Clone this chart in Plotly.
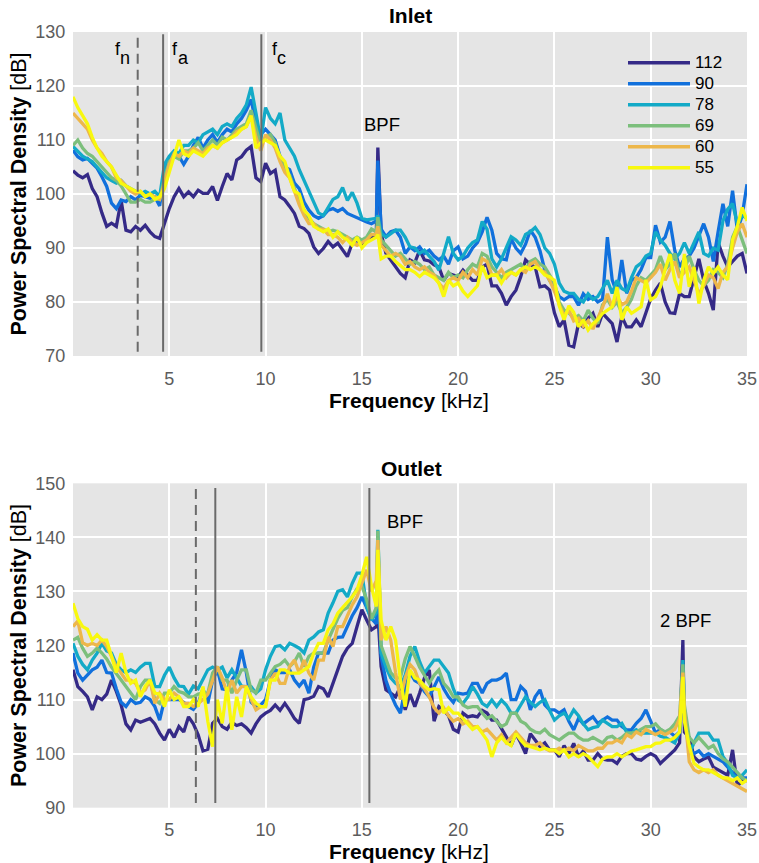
import plotly.graph_objects as go

W, H = 759, 863

speeds = ["112", "90", "78", "69", "60", "55"]
colors = ["#352a87", "#1170dc", "#13aac7", "#7cbf7c", "#edb74b", "#f8f80e"]

freq_step = 0.25          # kHz between stored samples (0 ... 35 kHz)
bpf = 15.83               # blade passing frequency [kHz]
bpf2 = 31.67              # 2 x BPF [kHz]

# ---------------- Inlet (rows: k, k+.25, k+.5, k+.75 kHz) ----------------
inlet_112 = [
    [104.3, 103.5, 103.0, 103.6], [101.0, 99.5, 96.5, 94.0], [94.6, 94.0, 98.8, 93.3],
    [93.0, 94.0, 93.3, 94.2], [93.0, 92.1, 91.8, 94.5], [97.3, 99.5, 101.0, 99.5],
    [100.4, 99.5, 100.7, 100.1], [100.1, 101.4, 98.8, 101.4], [103.8, 102.6, 106.3, 106.9],
    [108.1, 108.8, 103.0, 102.3], [105.7, 103.8, 104.4, 99.5], [98.9, 97.7, 96.4, 94.0],
    [93.6, 92.7, 90.2, 89.0], [89.9, 91.2, 90.2, 90.9], [89.6, 88.4, 90.9, 91.5],
    [90.6, 91.7, 92.0, 92.4], [92.7, 89.0, 87.8, 86.5], [85.3, 84.5, 87.8, 87.3],
    [89.6, 87.8, 87.6, 86.9], [86.5, 84.0, 85.3, 85.0], [84.7, 85.9, 85.0, 84.0],
    [84.0, 86.5, 87.0, 83.0], [83.0, 81.6, 79.4, 81.0], [82.2, 84.7, 87.8, 86.9],
    [86.5, 82.8, 83.0, 82.2], [78.0, 75.4, 76.7, 72.0], [71.7, 76.0, 75.4, 77.0],
    [77.9, 75.4, 77.9, 77.0], [76.0, 72.6, 77.3, 75.4], [75.4, 76.7, 75.4, 78.0],
    [80.6, 82.2, 83.5, 80.0], [78.0, 77.9, 81.6, 81.0], [81.0, 84.5, 88.0, 84.0],
    [81.6, 78.5, 91.0, 88.5], [86.5, 87.5, 88.5, 89.0], [85.3],
]
inlet_90 = [
    [108.1, 106.9, 106.3, 106.6], [105.7, 104.8, 103.2, 101.4], [98.3, 97.3, 98.9, 98.6],
    [99.5, 98.9, 99.8, 99.5], [99.2, 99.5, 97.8, 104.0], [106.5, 107.5, 107.0, 105.5],
    [107.0, 109.0, 110.5, 108.5], [110.0, 111.0, 109.5, 111.0], [112.0, 111.5, 113.0, 114.0],
    [115.5, 117.5, 113.0, 111.0], [112.0, 111.0, 110.0, 107.0], [105.0, 104.5, 102.0, 101.0],
    [98.5, 97.0, 96.0, 95.5], [96.0, 97.0, 97.3, 96.8], [97.3, 96.4, 96.0, 95.5],
    [95.2, 94.8, 94.5, 95.0], [93.5, 92.1, 93.0, 93.3], [92.0, 89.0, 90.2, 89.5],
    [90.2, 89.0, 89.6, 88.5], [87.8, 88.5, 87.0, 89.5], [90.2, 88.0, 88.5, 90.0],
    [91.0, 93.0, 95.7, 93.3], [89.0, 88.0, 87.8, 91.7], [90.0, 89.0, 90.7, 93.3],
    [92.0, 89.5, 85.9, 84.0], [82.8, 81.0, 80.4, 81.0], [81.0, 79.4, 81.5, 80.5],
    [81.0, 80.0, 80.5, 92.0], [84.1, 81.6, 87.8, 81.6], [84.0, 84.5, 86.0, 88.2],
    [88.2, 94.2, 91.1, 92.0], [94.9, 89.5, 86.5, 88.0], [88.5, 90.0, 92.2, 94.5],
    [92.0, 87.5, 93.0, 98.2], [94.0, 100.6, 93.3, 96.0], [101.8],
]
inlet_78 = [
    [108.8, 108.0, 107.0, 106.5], [106.0, 105.0, 104.0, 103.0], [102.5, 102.0, 102.5, 101.5],
    [101.0, 100.5, 100.0, 100.5], [100.0, 100.5, 99.5, 105.5], [107.0, 108.0, 107.5, 109.0],
    [109.0, 110.0, 109.5, 111.0], [111.5, 112.0, 111.0, 112.5], [113.0, 112.5, 114.0, 115.0],
    [116.5, 119.8, 115.0, 110.0], [116.0, 114.0, 113.0, 115.0], [110.0, 108.5, 107.0, 104.5],
    [102.5, 100.5, 98.5, 96.5], [96.0, 97.5, 99.0, 99.5], [101.2, 98.8, 100.3, 98.3],
    [95.5, 95.2, 95.3, 95.5], [92.7, 92.0, 92.7, 93.3], [93.3, 92.0, 90.2, 90.0],
    [89.0, 89.6, 88.5, 87.5], [85.9, 89.0, 92.1, 89.0], [87.8, 88.5, 90.0, 91.0],
    [91.5, 94.9, 93.5, 88.0], [86.5, 88.0, 90.0, 92.1], [91.5, 90.5, 92.5, 93.0],
    [93.8, 92.5, 90.0, 89.0], [87.0, 83.5, 82.0, 81.6], [81.6, 80.5, 80.0, 81.5],
    [80.5, 81.0, 82.5, 84.0], [81.6, 84.0, 82.5, 82.0], [84.5, 86.5, 87.2, 88.5],
    [89.0, 93.0, 91.5, 90.5], [89.0, 88.0, 89.0, 91.0], [89.0, 91.0, 93.0, 89.0],
    [88.5, 90.0, 89.6, 95.0], [97.2, 98.2, 94.5, 96.0], [95.5],
]
inlet_69 = [
    [109.0, 110.0, 108.5, 107.5], [107.0, 106.0, 105.0, 104.0], [103.0, 102.5, 101.5, 100.0],
    [98.5, 98.5, 99.0, 98.5], [98.5, 99.0, 99.0, 103.0], [106.0, 107.0, 106.5, 108.0],
    [108.0, 108.5, 109.5, 108.0], [109.0, 110.0, 109.0, 110.5], [110.0, 111.0, 112.0, 112.5],
    [113.0, 115.5, 112.0, 109.0], [110.5, 111.0, 109.5, 106.5], [104.5, 103.5, 101.0, 99.0],
    [97.0, 95.5, 94.5, 94.0], [93.5, 93.0, 93.3, 93.0], [92.5, 92.0, 91.5, 92.0],
    [91.5, 92.0, 93.5, 93.0], [91.5, 90.5, 89.5, 88.5], [89.0, 88.0, 87.0, 87.5],
    [87.0, 86.0, 86.5, 85.0], [84.5, 84.0, 85.5, 84.5], [85.0, 84.5, 86.0, 87.0],
    [86.5, 89.0, 88.5, 86.5], [85.5, 84.5, 85.5, 86.0], [86.5, 87.0, 86.0, 87.5],
    [88.0, 87.0, 86.5, 85.0], [83.5, 80.0, 78.5, 78.0], [77.0, 77.5, 76.5, 78.5],
    [77.0, 76.0, 79.5, 80.5], [79.0, 80.0, 78.0, 79.0], [80.5, 83.0, 84.5, 84.0],
    [85.0, 86.0, 88.5, 86.0], [87.0, 89.0, 85.0, 86.0], [88.5, 86.0, 84.0, 83.0],
    [84.0, 86.0, 85.5, 84.5], [87.0, 92.0, 94.0, 91.5], [89.0],
]
inlet_60 = [
    [115.0, 114.0, 113.0, 112.0], [110.0, 108.5, 107.5, 106.0], [105.0, 103.0, 102.5, 101.5],
    [100.5, 100.0, 100.5, 99.5], [100.0, 99.5, 99.0, 102.0], [105.5, 107.5, 107.0, 108.0],
    [107.5, 108.5, 108.0, 107.5], [108.5, 109.0, 108.5, 109.5], [110.0, 110.5, 111.5, 112.0],
    [112.5, 114.5, 110.5, 108.0], [111.0, 110.0, 108.5, 106.0], [104.0, 103.0, 100.5, 98.0],
    [96.0, 94.5, 94.5, 93.5], [93.5, 92.5, 92.5, 92.0], [91.0, 92.0, 91.0, 90.5],
    [91.0, 91.5, 92.5, 92.5], [90.5, 89.5, 88.5, 89.0], [88.5, 87.0, 87.5, 86.5],
    [86.0, 86.5, 85.5, 85.0], [83.5, 82.5, 84.0, 84.5], [84.0, 85.5, 84.5, 86.0],
    [85.0, 88.0, 87.5, 85.0], [85.0, 86.0, 84.5, 85.5], [85.0, 86.0, 85.5, 87.0],
    [87.5, 86.0, 85.5, 84.0], [82.0, 79.5, 77.5, 78.5], [76.5, 77.0, 75.5, 76.5],
    [75.0, 77.0, 79.0, 81.5], [79.0, 81.0, 79.5, 80.0], [82.0, 84.5, 84.0, 83.5],
    [84.5, 85.5, 87.0, 84.0], [86.0, 87.5, 84.5, 85.5], [86.5, 84.0, 81.5, 83.0],
    [85.0, 84.5, 82.5, 85.5], [86.5, 90.0, 93.0, 94.5], [92.0],
]
inlet_55 = [
    [118.0, 116.0, 114.5, 113.0], [110.5, 108.5, 107.0, 106.0], [105.0, 103.5, 102.0, 101.5],
    [101.0, 100.5, 100.5, 99.5], [100.0, 99.0, 99.5, 101.0], [104.0, 107.0, 110.0, 107.5],
    [107.0, 108.0, 107.5, 107.0], [108.0, 109.0, 108.5, 109.5], [110.0, 110.5, 111.0, 112.0],
    [112.5, 114.5, 108.5, 109.5], [110.0, 109.5, 109.0, 107.0], [106.0, 103.0, 100.5, 100.0],
    [97.0, 96.0, 94.0, 93.5], [93.0, 93.5, 92.0, 93.0], [92.0, 91.5, 90.5, 92.0],
    [90.0, 91.0, 91.5, 92.0], [88.0, 88.5, 88.5, 87.5], [86.7, 86.0, 86.0, 85.5],
    [84.7, 85.5, 85.0, 84.5], [83.5, 81.0, 84.0, 83.0], [83.5, 82.0, 81.0, 82.0],
    [83.0, 86.7, 84.5, 85.0], [85.0, 83.5, 85.0, 85.5], [85.0, 86.0, 86.5, 86.0],
    [86.5, 86.0, 85.0, 84.7], [84.0, 79.3, 76.7, 79.3], [78.1, 75.4, 76.7, 74.8],
    [76.0, 76.7, 77.9, 78.5], [79.1, 82.8, 76.7, 79.1], [77.9, 78.5, 79.1, 84.1],
    [80.4, 81.0, 82.8, 86.0], [88.9, 84.0, 81.6, 88.9], [82.8, 86.5, 79.7, 84.0],
    [86.5, 85.3, 86.5, 85.0], [84.1, 91.5, 94.0, 97.5], [95.0],
]
inlet_bpf_peak = [108.6, 106.2, 96.0, 95.7, 94.0, 92.5]

# ---------------- Outlet ----------------
outlet_112 = [
    [115.5, 112.4, 111.5, 110.5], [108.1, 110.5, 110.0, 111.0], [113.6, 111.5, 109.0, 105.5],
    [104.4, 106.2, 105.8, 106.2], [106.5, 105.5, 103.8, 102.5], [104.5, 103.0, 105.0, 104.0],
    [106.8, 105.5, 103.5, 100.5], [100.8, 105.6, 106.5, 105.0], [104.5, 105.8, 105.2, 105.5],
    [104.8, 103.8, 105.5, 106.8], [107.5, 108.0, 109.0, 108.0], [109.3, 108.0, 106.5, 105.6],
    [110.0, 110.2, 110.6, 112.4], [112.0, 110.5, 113.0, 115.5], [118.0, 119.5, 120.4, 123.5],
    [126.6, 124.7, 122.9, 123.5], [116.1, 111.8, 111.2, 110.5], [112.4, 108.1, 111.0, 108.7],
    [111.2, 114.0, 115.5, 106.0], [108.7, 108.1, 107.0, 104.5], [104.0, 107.5, 106.8, 107.0],
    [106.8, 108.0, 107.5, 106.2], [106.2, 104.5, 103.1, 101.5], [103.7, 102.0, 100.0, 103.7],
    [102.5, 101.3, 102.0, 100.7], [100.7, 99.4, 101.5, 100.0], [101.9, 99.4, 100.5, 98.8],
    [98.8, 100.0, 99.0, 98.8], [98.8, 98.2, 99.5, 100.0], [100.0, 99.0, 98.8, 99.5],
    [100.0, 99.5, 98.2, 99.0], [100.0, 100.7, 102.0, 104.0], [103.0, 99.4, 98.5, 99.0],
    [99.4, 97.5, 97.0, 96.5], [96.0, 100.7, 94.0, 95.0], [95.0],
]
outlet_90 = [
    [118.6, 114.9, 113.6, 114.5], [115.5, 116.0, 117.3, 115.0], [114.9, 112.0, 109.5, 108.7],
    [110.0, 109.3, 109.5, 110.5], [110.0, 108.7, 106.2, 110.0], [110.0, 110.0, 110.0, 109.5],
    [108.7, 108.2, 109.3, 112.0], [109.3, 113.6, 115.5, 112.0], [111.8, 113.6, 115.0, 119.2],
    [115.0, 109.5, 108.7, 109.0], [110.0, 113.6, 115.5, 115.0], [115.0, 115.5, 113.6, 112.5],
    [113.6, 111.2, 116.0, 118.6], [118.6, 118.6, 121.0, 121.5], [121.6, 123.5, 125.5, 127.0],
    [129.0, 127.0, 125.0, 124.0], [118.0, 113.5, 111.0, 109.0], [107.5, 112.0, 115.0, 113.5],
    [113.0, 111.5, 110.5, 112.5], [114.2, 112.0, 110.5, 109.5], [111.2, 111.0, 111.2, 113.0],
    [113.0, 111.2, 113.0, 113.6], [113.6, 114.0, 114.9, 110.0], [110.0, 112.4, 111.5, 108.1],
    [110.5, 111.8, 109.0, 108.1], [108.1, 107.5, 108.1, 106.0], [104.4, 106.5, 105.5, 106.2],
    [106.8, 105.6, 106.2, 106.8], [106.2, 106.2, 105.0, 104.4], [104.4, 105.6, 106.5, 108.1],
    [106.0, 103.8, 104.5, 103.8], [104.0, 103.2, 104.0, 108.0], [101.0, 100.0, 100.5, 99.5],
    [100.0, 99.5, 99.0, 98.5], [97.5, 96.5, 95.5, 95.5], [95.5],
]
outlet_78 = [
    [120.4, 118.0, 116.5, 115.5], [117.3, 118.6, 120.4, 119.0], [118.6, 116.5, 115.5, 115.0],
    [115.5, 115.0, 116.0, 116.7], [116.7, 112.4, 112.4, 114.5], [116.0, 114.0, 112.5, 112.4],
    [111.0, 112.5, 112.0, 113.6], [115.5, 116.0, 115.5, 116.0], [114.0, 115.5, 114.0, 112.5],
    [112.4, 112.4, 111.2, 112.0], [115.5, 118.0, 119.8, 120.0], [119.2, 120.4, 120.0, 119.5],
    [118.6, 121.0, 121.6, 122.5], [122.9, 126.0, 127.9, 130.0], [130.3, 129.0, 131.5, 133.4],
    [133.4, 127.2, 124.7, 126.0], [118.6, 116.0, 114.0, 113.0], [112.4, 114.5, 118.0, 119.8],
    [117.0, 114.9, 116.0, 117.3], [117.3, 116.0, 114.9, 112.0], [109.9, 109.3, 110.5, 112.4],
    [111.0, 109.3, 108.7, 109.9], [108.7, 109.9, 109.0, 107.5], [107.5, 109.0, 110.5, 109.5],
    [108.7, 109.5, 110.0, 108.0], [106.2, 107.0, 107.5, 106.5], [108.1, 107.0, 105.5, 104.4],
    [104.8, 105.0, 106.2, 105.6], [105.0, 105.0, 105.6, 104.0], [103.8, 104.4, 103.8, 103.8],
    [103.8, 103.8, 103.2, 103.0], [102.5, 102.0, 104.0, 108.0], [100.0, 102.0, 103.8, 103.8],
    [103.8, 102.5, 102.5, 99.5], [98.2, 96.0, 95.5, 96.0], [97.0],
]
outlet_69 = [
    [121.0, 121.5, 119.5, 118.0], [118.6, 119.5, 118.6, 117.5], [116.0, 114.9, 113.6, 112.4],
    [111.2, 110.0, 112.4, 113.6], [113.6, 110.0, 109.3, 111.2], [111.2, 112.4, 111.5, 111.2],
    [110.5, 110.5, 111.0, 111.2], [111.2, 114.9, 116.1, 113.6], [113.6, 111.2, 113.6, 115.5],
    [115.5, 111.8, 111.2, 113.6], [113.6, 114.9, 116.1, 116.5], [117.3, 116.1, 117.0, 118.6],
    [116.1, 118.0, 118.6, 118.6], [118.6, 121.0, 123.0, 125.0], [126.5, 127.0, 129.0, 130.5],
    [131.0, 128.5, 125.0, 127.0], [120.0, 117.5, 115.0, 114.0], [114.0, 117.5, 119.8, 118.0],
    [116.0, 114.5, 113.0, 114.5], [115.5, 113.0, 112.0, 110.5], [110.5, 109.0, 108.5, 108.7],
    [108.7, 107.5, 106.5, 107.0], [106.0, 105.0, 105.5, 107.5], [107.5, 106.0, 105.5, 104.5],
    [104.0, 103.8, 104.5, 103.5], [103.0, 102.5, 103.2, 103.8], [103.8, 103.0, 102.5, 102.5],
    [103.0, 102.5, 102.0, 103.0], [103.2, 102.5, 103.0, 103.8], [103.8, 104.0, 104.5, 105.0],
    [105.0, 105.5, 104.5, 104.0], [104.5, 105.5, 107.0, 109.0], [103.0, 102.0, 103.0, 102.0],
    [101.0, 101.5, 100.0, 99.0], [98.5, 97.5, 96.5, 95.5], [95.0],
]
outlet_60 = [
    [123.5, 124.5, 120.5, 120.0], [120.4, 120.0, 121.0, 119.8], [118.0, 116.0, 114.9, 113.6],
    [113.6, 113.0, 111.2, 111.8], [113.6, 109.3, 111.2, 110.0], [110.0, 111.2, 110.5, 109.3],
    [109.3, 108.7, 109.3, 110.0], [111.0, 113.6, 116.1, 114.0], [111.2, 113.6, 111.2, 112.4],
    [112.4, 110.0, 108.1, 108.7], [108.7, 113.6, 114.9, 113.0], [113.0, 116.1, 117.3, 114.9],
    [117.3, 114.9, 113.6, 117.3], [117.3, 121.6, 119.8, 123.5], [123.5, 125.5, 127.5, 129.0],
    [131.5, 134.0, 130.0, 132.0], [121.0, 123.5, 121.0, 115.0], [110.0, 114.0, 116.5, 115.5],
    [113.0, 112.0, 110.5, 108.5], [107.5, 108.5, 107.0, 106.0], [106.5, 105.5, 106.0, 105.0],
    [105.0, 104.0, 104.5, 103.5], [102.5, 103.5, 102.0, 103.0], [104.0, 103.0, 102.0, 101.5],
    [101.5, 102.0, 101.0, 100.5], [100.5, 101.0, 100.5, 101.0], [100.5, 101.5, 101.0, 100.5],
    [100.5, 101.0, 101.0, 102.0], [102.0, 102.5, 102.0, 103.5], [103.0, 104.0, 103.5, 104.5],
    [104.0, 103.5, 104.0, 103.5], [104.0, 104.5, 106.5, 108.0], [98.5, 97.0, 96.5, 97.0],
    [96.5, 97.0, 96.0, 95.5], [95.0, 94.5, 94.0, 93.5], [93.0],
]
outlet_55 = [
    [127.8, 125.0, 123.5, 123.0], [121.0, 122.0, 121.0, 121.0], [118.0, 115.0, 118.6, 115.0],
    [113.0, 113.6, 110.5, 112.5], [113.6, 111.2, 111.0, 108.7], [111.8, 110.0, 110.5, 108.7],
    [108.7, 110.0, 108.7, 112.4], [106.0, 101.3, 110.0, 105.6], [112.4, 104.4, 110.5, 106.8],
    [112.4, 110.5, 109.3, 108.7], [108.7, 113.6, 113.6, 115.5], [115.5, 114.9, 114.9, 114.9],
    [115.5, 116.1, 118.6, 120.4], [120.4, 122.9, 124.0, 126.0], [127.0, 128.0, 129.0, 130.3],
    [133.0, 136.4, 130.9, 127.2], [124.7, 121.0, 123.5, 121.0], [113.6, 108.7, 115.5, 114.0],
    [113.6, 112.5, 111.8, 112.0], [111.8, 107.5, 108.5, 107.5], [107.5, 106.5, 105.5, 104.5],
    [105.0, 103.8, 102.5, 99.4], [102.0, 103.0, 102.0, 101.5], [103.7, 102.5, 101.5, 101.3],
    [101.0, 100.7, 101.0, 100.7], [100.7, 100.0, 100.7, 99.4], [100.0, 99.4, 100.0, 99.5],
    [98.5, 97.6, 99.0, 99.4], [99.4, 100.0, 99.4, 100.0], [100.5, 100.7, 101.0, 101.3],
    [101.3, 101.9, 102.0, 102.5], [102.5, 103.0, 104.0, 106.0], [101.5, 98.2, 97.5, 97.0],
    [97.0, 96.5, 96.0, 95.5], [95.5, 95.0, 95.5, 94.5], [95.1],
]
outlet_bpf_peak = [126.0, 133.0, 141.4, 141.2, 139.5, 137.7]
outlet_2bpf_peak = [121.0, 112.0, 117.3, 116.5, 115.0, 114.2]

# characteristic frequencies [kHz] (vertical markers)
inlet_marks = {"n": 3.36, "a": 4.68, "c": 9.78}
outlet_marks = {"n": 6.38, "a": 7.39, "c": 15.39}

inlet_series = [inlet_112, inlet_90, inlet_78, inlet_69, inlet_60, inlet_55]
outlet_series = [outlet_112, outlet_90, outlet_78, outlet_69, outlet_60, outlet_55]


def build(rows, peaks):
    vals = [v for r in rows for v in r]
    pts = [(round(i * freq_step, 4), v) for i, v in enumerate(vals)] + peaks
    pts.sort(key=lambda p: p[0])
    return [p[0] for p in pts], [p[1] for p in pts]


fig = go.Figure()
for i, name in enumerate(speeds):
    fx, fy = build(inlet_series[i], [(bpf, inlet_bpf_peak[i])])
    fig.add_trace(go.Scatter(x=fx, y=fy, mode="lines", name=name, showlegend=False,
                             line=dict(color=colors[i], width=3.3), xaxis="x", yaxis="y"))
for i, name in enumerate(speeds):
    fx, fy = build(outlet_series[i], [(bpf, outlet_bpf_peak[i]), (bpf2, outlet_2bpf_peak[i])])
    fig.add_trace(go.Scatter(x=fx, y=fy, mode="lines", name=name, showlegend=False,
                             line=dict(color=colors[i], width=3.3), xaxis="x2", yaxis="y2"))

FONT = "Liberation Sans, Arial, Helvetica, sans-serif"
TICKC = "#5c5c5c"
TITLE_FS = 21

x_dom = [73 / W, 747 / W]
top_dom = [1 - 356 / H, 1 - 32 / H]
bot_dom = [1 - 807.7 / H, 1 - 483.3 / H]

xcommon = dict(range=[0, 35], tickvals=[5, 10, 15, 20, 25, 30, 35], showgrid=True,
               gridcolor="white", gridwidth=2, zeroline=False, showline=False, automargin=False,
               ticks="outside", ticklen=6, tickcolor="rgba(0,0,0,0)",
               tickfont=dict(size=18, color=TICKC, family=FONT), domain=x_dom)
ycommon = dict(showgrid=True, gridcolor="white", gridwidth=2, zeroline=False, showline=False,
               automargin=False,
               ticks="outside", ticklen=3, tickcolor="rgba(0,0,0,0)", dtick=10,
               tickfont=dict(size=18, color=TICKC, family=FONT),
               title=dict(text="<b>Power Spectral Density</b> [dB]",
                          font=dict(size=21.5, color="black", family=FONT), standoff=2))

fig.update_layout(
    width=W, height=H, margin=dict(l=0, r=0, t=0, b=0, autoexpand=False),
    paper_bgcolor="white", plot_bgcolor="#e5e5e5",
    font=dict(family=FONT, color="black"),
    xaxis=dict(**xcommon, anchor="y"),
    yaxis=dict(**ycommon, range=[70, 130], domain=top_dom, anchor="x"),
    xaxis2=dict(**xcommon, anchor="y2"),
    yaxis2=dict(**ycommon, range=[90, 150], domain=bot_dom, anchor="x2"),
    showlegend=False,
)

# vertical marker lines
shapes = []
for key, ref, (d0, d1) in [("x", "y", (0.013, 0.993)), ("x2", "y2", (0.0145, 0.9855))]:
    marks = inlet_marks if key == "x" else outlet_marks
    for k, f in marks.items():
        shapes.append(dict(type="line", xref=key, yref=ref + " domain", x0=f, x1=f, y0=d0, y1=d1,
                           line=dict(color="#6a6a6a", width=2, dash="10px,6px" if k == "n" else "solid")))

# custom legend (long line samples as in the original)
ann = []
for i, name in enumerate(speeds):
    ypx = 62.7 + 21 * i
    shapes.append(dict(type="line", xref="paper", yref="paper", x0=628 / W, x1=690 / W,
                       y0=1 - ypx / H, y1=1 - ypx / H, line=dict(color=colors[i], width=3.5)))
    ann.append(dict(xref="paper", yref="paper", x=693 / W, y=1 - ypx / H, text=name, showarrow=False,
                    xanchor="left", yanchor="middle", font=dict(size=17, color="black", family=FONT)))

# panel titles
ann.append(dict(xref="paper", yref="paper", x=410 / W, y=1 - 15.5 / H, text="<b>Inlet</b>",
                showarrow=False, xanchor="center", yanchor="middle", font=dict(size=21, family=FONT)))
ann.append(dict(xref="paper", yref="paper", x=411 / W, y=1 - 468 / H, text="<b>Outlet</b>",
                showarrow=False, xanchor="center", yanchor="middle", font=dict(size=21, family=FONT)))

# x-axis titles (placed like the original, just under the tick labels)
for ypx in (400.5, 851.0):
    ann.append(dict(xref="paper", yref="paper", x=409 / W, y=1 - ypx / H,
                    text="<b>Frequency</b> [kHz]", showarrow=False, xanchor="center", yanchor="middle",
                    font=dict(size=TITLE_FS, color="black", family=FONT)))

# f_n, f_a, f_c labels (f with lowered subscript letter)
for (fx_f, fx_s), sub in [((2.33, 2.70), "n"), ((5.32, 5.72), "a"), ((10.47, 10.82), "c")]:
    ann.append(dict(xref="x", yref="y", x=fx_f, y=126.9, text="f", showarrow=False,
                    xanchor="center", yanchor="middle", font=dict(size=18, family=FONT)))
    ann.append(dict(xref="x", yref="y", x=fx_s, y=125.2, text=sub, showarrow=False,
                    xanchor="center", yanchor="middle", font=dict(size=18, family=FONT)))

ann.append(dict(xref="x", yref="y", x=16.05, y=112.9, text="BPF", showarrow=False,
                xanchor="center", yanchor="middle", font=dict(size=18.5, family=FONT)))
ann.append(dict(xref="x2", yref="y2", x=17.25, y=142.9, text="BPF", showarrow=False,
                xanchor="center", yanchor="middle", font=dict(size=18.5, family=FONT)))
ann.append(dict(xref="x2", yref="y2", x=31.83, y=124.7, text="2 BPF", showarrow=False,
                xanchor="center", yanchor="middle", font=dict(size=18.5, family=FONT)))

fig.update_layout(shapes=shapes, annotations=ann)
fig.write_html("out.html")
